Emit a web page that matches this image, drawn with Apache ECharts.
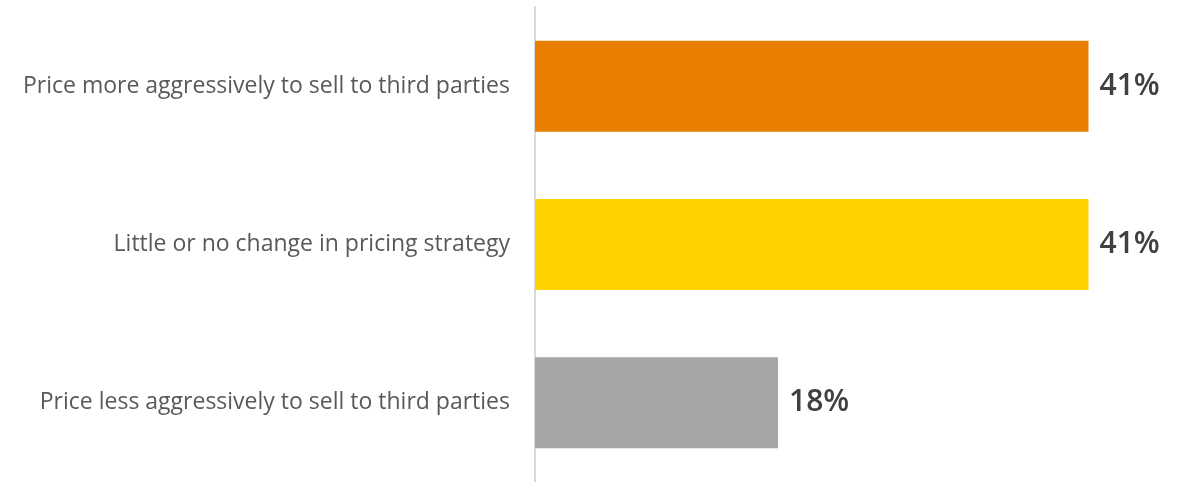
<!DOCTYPE html>
<html>
<head>
<meta charset="utf-8">
<script src="https://cdn.jsdelivr.net/npm/echarts@6/dist/echarts.min.js"></script>
<style>
  html, body { margin: 0; padding: 0; background: #ffffff; }
  #chart { width: 1180px; height: 482px; }
</style>
</head>
<body>
<div id="chart"></div>
<script>
// Pricing strategy responses, top to bottom
const categories = [
  'Price more aggressively to sell to third parties',
  'Little or no change in pricing strategy',
  'Price less aggressively to sell to third parties'
];
const shares = [41, 41, 18];
const barColors = ['#E97F00', '#FFD100', '#A6A6A6'];

const chart = echarts.init(document.getElementById('chart'), null, { renderer: 'canvas' });

chart.setOption({
  animation: false,
  grid: { left: 535, right: 51, top: 7, height: 478.5, containLabel: false },
  xAxis: {
    type: 'value',
    min: 0,
    max: 44,
    show: false
  },
  yAxis: {
    type: 'category',
    inverse: true,
    data: categories,
    axisLine: { show: true, lineStyle: { color: '#D9D9D9', width: 2 } },
    axisTick: { show: false },
    splitLine: { show: false },
    axisLabel: {
      margin: 25,
      color: '#595959',
      fontSize: 23,
      fontFamily: 'Open Sans'
    }
  },
  series: [{
    type: 'bar',
    barWidth: 91,
    data: shares.map((v, i) => ({ value: v, itemStyle: { color: barColors[i] } })),
    label: {
      show: true,
      position: 'right',
      distance: 11,
      formatter: '{c}%',
      color: '#404040',
      fontSize: 30,
      fontWeight: 600,
      fontFamily: 'Open Sans'
    }
  }]
});
</script>
</body>
</html>
